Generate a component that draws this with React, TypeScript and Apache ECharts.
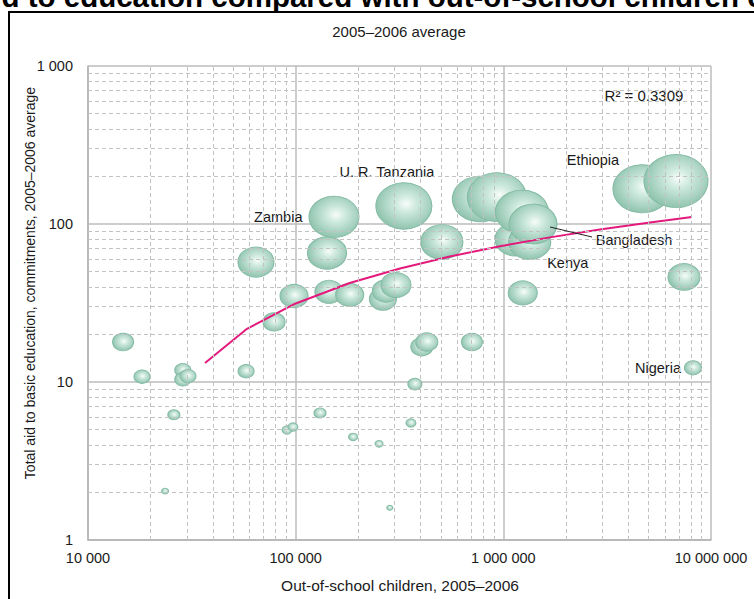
import React, { useEffect, useRef } from "react";
import * as echarts from "echarts";

// Out-of-school children (x), total aid to basic education (y, US$ millions), bubble weight
const outOfSchool = [
  14750, 18200, 28600, 28600, 30300, 57700, 25900, 23500, 90800, 97000,
  131000, 189000, 252000, 284000, 359000, 375000, 405000, 428000, 706000, 8190000,
  78700, 98200, 144600, 182000, 263000, 272000, 304000, 1240000, 7410000, 64400,
  141600, 153000, 332000, 506000, 1140000, 1340000, 771000, 931000, 1230000, 1390000,
  4650000, 6780000,
];
const aidBasicEdu = [
  17.9, 10.8, 11.9, 10.4, 10.9, 11.7, 6.2, 2.04, 4.97, 5.19,
  6.37, 4.49, 4.06, 1.6, 5.51, 9.7, 16.7, 17.9, 17.9, 12.3,
  24.0, 35.0, 37.2, 35.6, 33.5, 37.7, 41.1, 36.6, 46.2, 57.4,
  65.5, 111, 130, 76.9, 80, 77, 144, 148, 119, 100,
  167, 187,
];
const bubbleWeight = [
  21, 16, 16, 16, 16, 16, 12, 7, 10, 10,
  12, 9, 8, 6, 10, 14, 22, 22, 21, 17,
  22, 28, 28, 28, 27, 27, 30, 29, 32, 36,
  39, 50, 56, 42, 40, 42, 55, 59, 53, 48,
  58, 64,
];
const countryName = [
  "", "", "", "", "", "", "", "", "", "",
  "", "", "", "", "", "", "", "", "", "Nigeria",
  "", "", "", "", "", "", "", "", "", "",
  "", "Zambia", "U. R. Tanzania", "", "", "Kenya", "", "", "", "Bangladesh",
  "Ethiopia", "",
];

// Logarithmic trend line
const trendX = [36600, 58300, 99400, 182000, 318000, 553000, 964000, 1675000, 2915000, 5080000, 8090000];
const trendY = [13.2, 21.7, 31.3, 42.3, 52.3, 62.3, 72.3, 82.3, 92.3, 102.3, 110.7];

const xDecades = [10000, 100000, 1000000];
const yDecades = [1, 10, 100];

const SANS = '"Liberation Sans", Arial, Helvetica, sans-serif';

const labelSpec: Record<string, any> = {
  Zambia: { position: "left", distance: 6 },
  "U. R. Tanzania": { position: "top", distance: 3, offset: [-17, 0] },
  Ethiopia: { position: "inside", offset: [-49, -29] },
  Bangladesh: { position: "inside", offset: [101, 16] },
  Kenya: { position: "inside", offset: [38, 21] },
  Nigeria: { position: "left", distance: 3 },
};

const fmt = (v: number) => String(Math.round(v)).replace(/\B(?=(\d{3})+(?!\d))/g, " ");

export default function App() {
  const ref = useRef<HTMLDivElement>(null);
  useEffect(() => {
    const chart = echarts.init(ref.current!, null, { renderer: "svg" });

    const bubbleColor = new echarts.graphic.RadialGradient(0.54, 0.45, 0.6, [
      { offset: 0, color: "#f7fcfa" },
      { offset: 0.3, color: "#cfeadf" },
      { offset: 1, color: "#88bfa9" },
    ]);

    const data = outOfSchool.map((x, i) => {
      const name = countryName[i];
      const spec = name ? labelSpec[name] : null;
      return {
        name,
        value: [x, aidBasicEdu[i], bubbleWeight[i]],
        label: spec
          ? { show: true, formatter: "{b}", fontFamily: SANS, fontSize: 14.5, color: "#1a1a1a", ...spec }
          : { show: false },
      };
    });

    const minorX: number[] = [];
    xDecades.forEach((d) => { for (let k = 2; k <= 9; k++) minorX.push(k * d); });
    const minorY: number[] = [];
    yDecades.forEach((d) => { for (let k = 2; k <= 9; k++) minorY.push(k * d); });

    chart.setOption({
      animation: false,
      grid: { left: 88, top: 66, right: 43, bottom: 59, show: false },
      xAxis: {
        type: "log",
        logBase: 10,
        min: 10000,
        max: 10000000,
        axisLine: { show: true, lineStyle: { color: "#b3b3b3", width: 1.5 } },
        axisTick: { show: false },
        axisLabel: { formatter: fmt, fontFamily: SANS, fontSize: 14.5, color: "#1a1a1a", margin: 10 },
        splitLine: { show: true, lineStyle: { color: "#bdbdbd", width: 1.5 } },
      },
      yAxis: {
        type: "log",
        logBase: 10,
        min: 1,
        max: 1000,
        axisLine: { show: true, lineStyle: { color: "#b3b3b3", width: 1.5 } },
        axisTick: { show: false },
        axisLabel: { formatter: fmt, fontFamily: SANS, fontSize: 14.5, color: "#1a1a1a", margin: 15 },
        splitLine: { show: true, lineStyle: { color: "#bdbdbd", width: 1.5 } },
      },
      series: [
        {
          type: "line",
          data: [],
          silent: true,
          z: 1,
          markLine: {
            silent: true,
            symbol: ["none", "none"],
            label: { show: false },
            lineStyle: { type: [4, 3], color: "#c2c2c2", width: 1 },
            data: [
              ...minorX.map((v) => ({ xAxis: v })),
              ...minorY.map((v) => ({ yAxis: v })),
            ],
          },
        },
        {
          type: "scatter",
          z: 3,
          data,
          symbol: "circle",
          symbolSize: (v: number[]) => [v[2], v[2] * 0.83],
          itemStyle: { color: bubbleColor, borderColor: "#84bba5", borderWidth: 1, opacity: 1 },
          emphasis: { disabled: true },
        },
        {
          type: "line",
          z: 4,
          data: trendX.map((x, i) => [x, trendY[i]]),
          symbol: "none",
          smooth: false,
          lineStyle: { color: "#e4197c", width: 2 },
        },
      ],
      graphic: [
        {
          type: "text",
          left: -28,
          top: -19,
          style: {
            text: "Aid to education compared with out-of-school children e",
            font: 'bold 29.5px "Liberation Sans", Arial, sans-serif',
            fill: "#000",
          },
        },
        {
          type: "rect",
          shape: { x: 9, y: 12, width: 900, height: 800 },
          style: { fill: "none", stroke: "#000", lineWidth: 2 },
        },
        {
          type: "text",
          x: 399,
          y: 31,
          style: { text: "2005–2006 average", font: `15px ${SANS}`, fill: "#1a1a1a", align: "center", verticalAlign: "middle" },
        },
        {
          type: "text",
          x: 400,
          y: 585,
          style: { text: "Out-of-school children, 2005–2006", font: `15.5px ${SANS}`, fill: "#1a1a1a", align: "center", verticalAlign: "middle" },
        },
        {
          type: "text",
          x: 30,
          y: 283,
          rotation: Math.PI / 2,
          style: {
            text: "Total aid to basic education, commitments, 2005–2006 average",
            font: `14px ${SANS}`,
            fill: "#1a1a1a",
            align: "center",
            verticalAlign: "middle",
          },
        },
        {
          type: "text",
          x: 644,
          y: 95,
          style: { text: "R² = 0.3309", font: `15px ${SANS}`, fill: "#1a1a1a", align: "center", verticalAlign: "middle" },
        },
        {
          type: "line",
          z: 10,
          shape: { x1: 550, y1: 227, x2: 592, y2: 237 },
          style: { stroke: "#222", lineWidth: 1 },
        },
      ],
    });
    return () => chart.dispose();
  }, []);
  return <div ref={ref} style={{ position: "absolute", left: 0, top: 0, width: 754, height: 599 }} />;
}
